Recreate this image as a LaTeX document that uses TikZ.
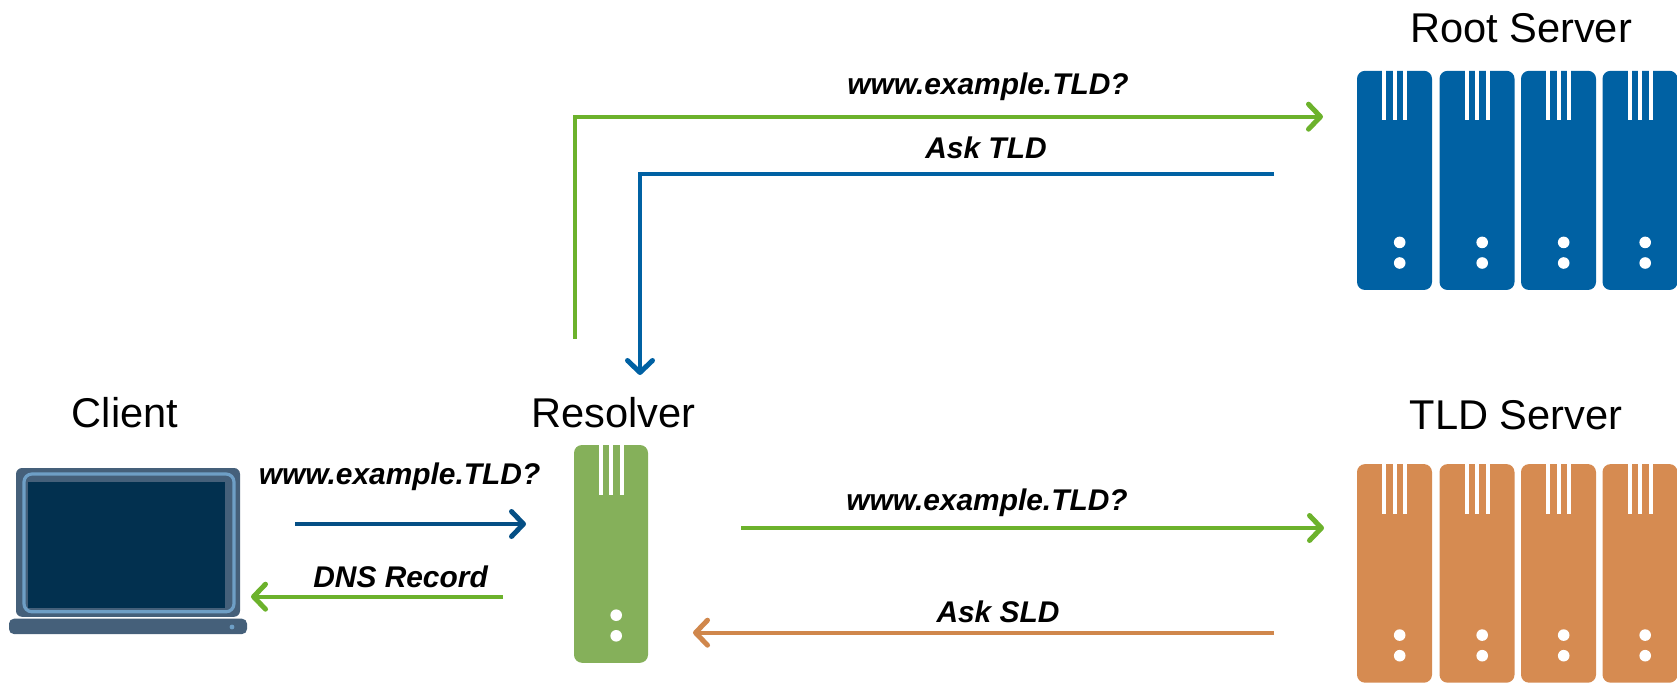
\documentclass[tikz,border=0pt]{standalone}
\usepackage{fontspec}
\setmainfont{Liberation Sans}
\usetikzlibrary{arrows.meta}

\definecolor{rootblue}{HTML}{0061A3}
\definecolor{tldorange}{HTML}{D68B51}
\definecolor{resolvergreen}{HTML}{85B05A}
\definecolor{linegreen}{HTML}{6CB22C}
\definecolor{linedark}{HTML}{054F85}
\definecolor{lineorange}{HTML}{D0874C}
\definecolor{laptopgrey}{HTML}{45607A}
\definecolor{laptopframe}{HTML}{6E9FC6}
\definecolor{laptopscreen}{HTML}{02304F}

% white slots and lamps of one server blade
\newcommand{\blademarks}[1]{
   \foreach \s in {-10.5,0,10.5}
      \fill[white] ([xshift=\s*.5pt-1pt]#1.north) rectangle ([xshift=\s*.5pt+1pt,yshift=-25pt]#1.north);
   \fill[white] ([xshift=2.6pt,yshift=13.7pt]#1.south) circle (2.9pt);
   \fill[white] ([xshift=2.6pt,yshift=24pt]#1.south) circle (2.9pt);
}

\begin{document}
\begin{tikzpicture}[x=.5pt,y=-.5pt,
    blade/.style ={rectangle, inner sep=0pt, rounded corners=4pt, minimum width=37.5pt},
    rootblade/.style ={blade, fill=rootblue, minimum height=109.6pt},
    tldblade/.style ={blade, fill=tldorange, minimum height=109.3pt},
    title/.style ={anchor=base, inner sep=0pt, font=\fontsize{20.8}{24}\selectfont},
    query/.style ={anchor=base, inner sep=0pt, font=\fontsize{14.95}{18}\selectfont\bfseries\itshape},
    link/.style ={line width=2pt, -{Straight Barb[length=6pt,width=12.5pt,round,line width=2.5pt]}}]
   \useasboundingbox (0,0) rectangle (1677,684);

   \node[title] (rootname) at (1521,42.7) {Root Server};
   \node[title] (tldname) at (1516,429.5) {TLD Server};
   \node[title] (clientname) at (125,427.7) {Client};
   \node[title] (resolvername) at (613.7,427.7) {Resolver};

   % the two racks
   \foreach \n/\x in {1/1394.5,2/1477,3/1558.5,4/1640} {
      \node[rootblade] (root\n) at (\x,180.4) {};
      \blademarks{root\n}
      \node[tldblade] (tld\n) at (\x,573.4) {};
      \blademarks{tld\n}
   }

   \node[blade, fill=resolvergreen, minimum width=37pt, minimum height=108.9pt] (resolver) at (611,553.9) {};
   \blademarks{resolver}

   % laptop
   \node[rectangle, fill=laptopgrey, rounded corners=3pt, minimum width=112pt, minimum height=74.4pt, inner sep=0pt] (body) at (128,542.4) {};
   \node[rectangle, draw=laptopframe, line width=1.6pt, rounded corners=4pt, minimum width=105pt, minimum height=68.9pt, inner sep=0pt] (frame) at (129,542.9) {};
   \node[rectangle, fill=laptopscreen, minimum width=98.5pt, minimum height=63.2pt, inner sep=0pt] (screen) at (126.5,544.9) {};
   \node[rectangle, fill=laptopgrey, rounded corners=2.5pt, minimum width=119pt, minimum height=7.7pt, inner sep=0pt] (base) at (128,626.4) {};
   \fill[laptopframe] (232,627) circle (1.2pt);

   \coordinate (resolverup) at (575,339);
   \coordinate (rootin) at (1323,116.7);
   \coordinate (rootout) at (1274,174);
   \coordinate (resolvertop) at (640,375);
   \coordinate (resolverout) at (741,528);
   \coordinate (tldin) at (1324,528);
   \coordinate (tldout) at (1274,632.7);
   \coordinate (resolverin) at (693,632.7);
   \coordinate (clientout) at (295,524);
   \coordinate (resolverleft) at (526,524);
   \coordinate (resolverback) at (503,596.7);
   \coordinate (clientin) at (251,596.7);

   \draw[link, linegreen] (resolverup) |- (rootin);
   \draw[link, rootblue] (rootout) -| (resolvertop);
   \draw[link, linegreen] (resolverout) -- (tldin);
   \draw[link, lineorange] (tldout) -- (resolverin);
   \draw[link, linedark] (clientout) -- (resolverleft);
   \draw[link, linegreen] (resolverback) -- (clientin);

   \node[query] (ask1) at (988,95) {www.example.TLD?};
   \node[query] (ask2) at (986,158.3) {Ask TLD};
   \node[query] (ask3) at (987,510) {www.example.TLD?};
   \node[query] (ask4) at (998,622) {Ask SLD};
   \node[query] (ask5) at (399.6,484) {www.example.TLD?};
   \node[query] (ask6) at (400.6,587.5) {DNS Record};
\end{tikzpicture}
\end{document}
